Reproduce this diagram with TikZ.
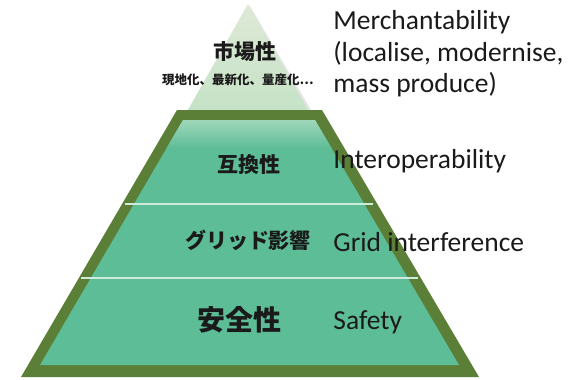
\documentclass[tikz,border=0pt]{standalone}
\usepackage{fontspec}
\setmainfont{Carlito}
\newfontfamily\jpfont{Noto Sans CJK JP}
\usepackage{xcolor}
\usetikzlibrary{positioning}

\definecolor{rim}{RGB}{91,127,54}
\definecolor{teal}{RGB}{93,189,151}
\definecolor{mint}{RGB}{160,215,186}
\definecolor{seam}{RGB}{205,236,220}
\definecolor{peaktop}{RGB}{222,233,214}
\definecolor{peakbot}{RGB}{196,226,198}
\definecolor{ink}{RGB}{26,26,26}

\begin{document}
\begin{tikzpicture}[
    x=1pt,
    y=-1pt,
    thick
]

\tikzstyle{jp}=[
    font=\jpfont\bfseries,
    text=ink,
    inner sep=0pt
]
\tikzstyle{en}=[
    font=\fontsize{27.5}{31.5}\selectfont,
    text=ink,
    anchor=west,
    inner sep=0pt,
    align=left
]

\useasboundingbox (0,0) rectangle (574,380);

% peak
\fill[gray!40, opacity=0.5] (250,6) -- (314,115) -- (190,115) -- cycle;
\shade[top color=peaktop, bottom color=peakbot] (248,4) -- (311,115) -- (185,115) -- cycle;

% frustum, outer rim then body
\fill[rim] (177,110) -- (322,110) -- (479,377) -- (21,377) -- cycle;
\fill[teal] (183,120) -- (315,120) -- (459,365) -- (40,365) -- cycle;
\begin{scope}
  \clip (183,120) -- (315,120) -- (459,365) -- (40,365) -- cycle;
  \shade[top color=mint, bottom color=teal] (0,120) rectangle (574,148);
\end{scope}

% seams between layers
\draw[seam, line width=1.8pt] (125,204) -- (373,204);
\draw[seam, line width=1.8pt] (81,278) -- (418,278);

% japanese labels
\node[jp, font=\jpfont\bfseries\fontsize{21}{21}\selectfont] (market) at (245,52) {市場性};
\node[jp, font=\jpfont\bfseries\fontsize{12.5}{12.5}\selectfont] (marketsub) at (238,80) {現地化、最新化、量産化…};
\node[jp, font=\jpfont\bfseries\fontsize{21}{21}\selectfont] (interop) at (249,165) {互換性};
\node[jp, font=\jpfont\bfseries\fontsize{21}{21}\selectfont] (grid) at (248,240) {グリッド影響};
\node[jp, font=\jpfont\bfseries\fontsize{28}{28}\selectfont] (safety) at (239,320) {安全性};

% english labels
\node[en] (marketen) at (333,54) {Merchantability\\(localise, modernise,\\mass produce)};
\node[en] (interopen) at (333,161) {Interoperability};
\node[en] (griden) at (333,242) {Grid interference};
\node[en] (safetyen) at (333,322) {Safety};

\end{tikzpicture}
\end{document}
